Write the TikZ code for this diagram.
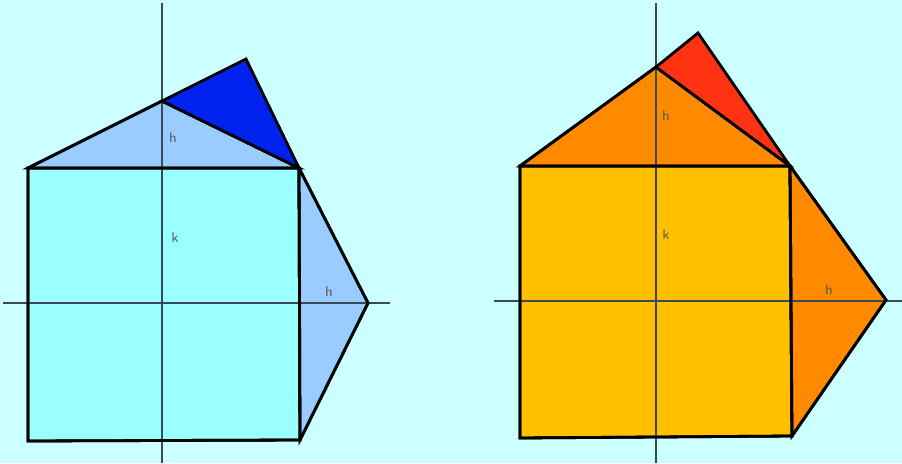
\documentclass[tikz,border=0pt]{standalone}
\usepackage{tikz}
\usetikzlibrary{positioning}

\definecolor{skybg}{HTML}{CCFFFF}
\definecolor{sqcyan}{HTML}{99FFFF}
\definecolor{triblue}{HTML}{99CCFF}
\definecolor{deepblue}{HTML}{0022EE}
\definecolor{sqamber}{HTML}{FFC000}
\definecolor{triorange}{HTML}{FF8A00}
\definecolor{deepred}{HTML}{FF3311}
\definecolor{axisgray}{HTML}{3A4A55}

\begin{document}
\begin{tikzpicture}[
  x=0.02cm,y=-0.02cm,
  piece/.style={draw=black,line width=1.6pt,line join=miter,fill=#1},
  axis/.style={draw=axisgray,line width=0.8pt},
  lbl/.style={font=\sffamily\footnotesize,text=black!65,inner sep=1pt},
]

% background
\fill[skybg] (0,0) rectangle (902,463);
\useasboundingbox (0,0) rectangle (902,463);

% === LEFT FIGURE ===
\coordinate (lsw) at (28,441);
\coordinate (lse) at (300,440);
\coordinate (lne) at (299,168);
\coordinate (lnw) at (28,168);
\coordinate (ltop) at (162,101);
\coordinate (ltip) at (246,59);
\coordinate (lright) at (368,303);

\path[piece=sqcyan] (lsw) -- (lse) -- (lne) -- (lnw) -- cycle;
\path[piece=triblue] (lnw) -- (ltop) -- (lne) -- cycle;
\path[piece=triblue] (lne) -- (lright) -- (lse) -- cycle;

% axes
\coordinate (lax1) at (3,303);
\coordinate (lax2) at (390,303);
\coordinate (lay1) at (162,3);
\coordinate (lay2) at (162,463);
\draw[axis] (lax1) -- (lax2);
\draw[axis] (lay1) -- (lay2);

% outlines on top of the axes
\draw[line width=1.6pt,line join=miter] (lsw) -- (lse) -- (lne) -- (lnw) -- cycle;
\draw[line width=1.6pt,line join=miter] (lnw) -- (ltop) -- (lne) -- (lright) -- (lse);
\path[piece=deepblue] (ltop) -- (ltip) -- (lne) -- cycle;

\node[lbl] (lh1) at (173,138) {h};
\node[lbl] (lk) at (175,238) {k};
\node[lbl] (lh2) at (329,292) {h};

% === RIGHT FIGURE ===
\coordinate (rsw) at (520,438);
\coordinate (rse) at (792,436);
\coordinate (rne) at (790,166);
\coordinate (rnw) at (520,166);
\coordinate (rtop) at (656,67);
\coordinate (rtip) at (698,33);
\coordinate (rright) at (886,300);

\path[piece=sqamber] (rsw) -- (rse) -- (rne) -- (rnw) -- cycle;
\path[piece=triorange] (rnw) -- (rtop) -- (rne) -- cycle;
\path[piece=triorange] (rne) -- (rright) -- (rse) -- cycle;

% axes
\coordinate (rax1) at (494,301);
\coordinate (rax2) at (902,301);
\coordinate (ray1) at (656,3);
\coordinate (ray2) at (656,463);
\draw[axis] (rax1) -- (rax2);
\draw[axis] (ray1) -- (ray2);

\draw[line width=1.6pt,line join=miter] (rsw) -- (rse) -- (rne) -- (rnw) -- cycle;
\draw[line width=1.6pt,line join=miter] (rnw) -- (rtop) -- (rne) -- (rright) -- (rse);
\path[piece=deepred] (rtop) -- (rtip) -- (rne) -- cycle;

\node[lbl] (rh1) at (666,116) {h};
\node[lbl] (rk) at (666,235) {k};
\node[lbl] (rh2) at (829,290) {h};

\end{tikzpicture}
\end{document}
